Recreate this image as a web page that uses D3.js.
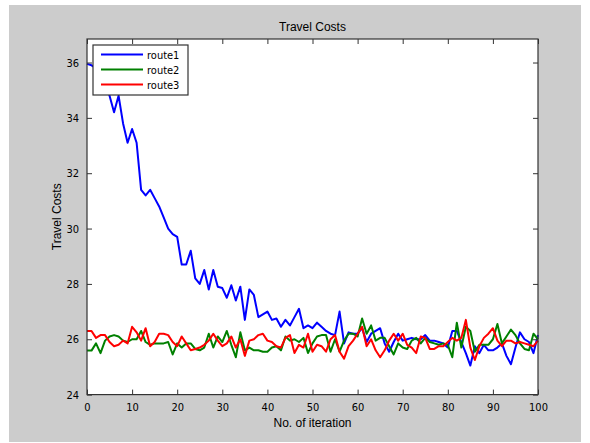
<!DOCTYPE html>
<html>
<head>
<meta charset="utf-8">
<script src="https://cdn.jsdelivr.net/npm/d3@7"></script>
<style>
    body { margin: 0; background: #ffffff; }
    .axis-text { font-family: "Liberation Sans Narrow", "DejaVu Sans Condensed", sans-serif; font-size: 11px; fill: #000; }
    .label-text { font-family: "Liberation Sans", Arial, sans-serif; font-size: 12px; fill: #000; }
</style>
</head>
<body>
<svg id="chart" width="590" height="443"></svg>
<script>
// iteration index 0..100
var iterations = d3.range(0, 101);

// route1: cost falls from ~36 and settles near 26
var route1 = [
    35.95, 35.9, 35.8, 35.5, 35.2, 34.8, 34.2, 34.8, 33.8, 33.1,
    33.6, 33.1, 31.4, 31.2, 31.4, 31.1, 30.8, 30.4, 30.0, 29.8,
    29.7, 28.7, 28.7, 29.2, 28.2, 28.0, 28.5, 27.8, 28.5, 27.9,
    27.85, 27.5, 27.95, 27.4, 27.9, 26.7, 27.8, 27.6, 26.8, 26.9,
    27.0, 26.7, 26.75, 26.45, 26.7, 26.5, 26.8, 27.1, 26.4, 26.5,
    26.4, 26.6, 26.45, 26.3, 26.2, 26.15, 27.0, 25.85, 26.25, 26.2,
    26.2, 26.4, 25.9, 26.2, 26.3, 26.4, 25.85, 25.55, 25.9, 26.2,
    25.95, 26.0, 26.05, 26.0, 26.0, 26.15, 25.95, 25.95, 25.9, 25.85,
    25.7, 26.3, 26.3, 25.9, 25.5, 25.05, 25.75, 25.5, 25.8, 25.6,
    25.6, 25.7, 25.85, 25.4, 25.1, 25.7, 26.25, 26.0, 25.9, 25.5,
    26.15
];

var route2 = [
    25.59, 25.59, 25.85, 25.5, 25.95, 26.1, 26.15, 26.1, 25.95, 25.9,
    26.0, 26.0, 26.3, 25.9, 25.8, 25.85, 25.85, 25.85, 25.9, 25.45,
    25.85, 25.7, 25.85, 25.85, 25.65, 25.6, 25.7, 26.2, 25.7, 26.1,
    25.9, 26.3, 25.8, 25.35, 26.25, 25.6, 25.7, 25.6, 25.6, 25.55,
    25.55, 25.7, 25.75, 25.6, 26.1, 25.95, 26.0, 25.9, 26.05, 25.5,
    25.85, 26.1, 26.15, 26.15, 25.55, 26.0, 25.55, 25.95, 26.2, 26.2,
    26.1, 26.75, 26.2, 26.5, 25.95, 26.05, 26.05, 25.75, 25.45, 25.85,
    25.7, 25.65, 25.95, 26.05, 25.85, 26.05, 25.9, 25.85, 25.8, 25.85,
    25.8, 25.35, 26.6, 25.7, 26.45, 26.3, 25.55, 25.8, 25.8, 25.8,
    26.0, 26.55, 25.85, 26.1, 26.35, 26.15, 25.85, 25.65, 25.6, 26.2,
    26.0
];

var route3 = [
    26.3, 26.3, 26.05, 26.15, 26.15, 25.9, 25.75, 25.8, 25.95, 25.85,
    26.45, 26.25, 25.95, 26.4, 25.75, 25.9, 26.2, 26.2, 26.15, 25.9,
    25.75, 26.1, 25.85, 25.6, 25.65, 25.7, 25.8, 25.95, 26.2, 25.95,
    25.75, 25.85, 26.1, 25.7, 26.0, 25.4, 25.95, 26.0, 26.15, 26.2,
    25.95, 25.9, 25.75, 25.7, 26.05, 26.15, 25.5, 25.8, 25.7, 26.2,
    25.55, 25.8, 25.75, 25.55, 26.0, 26.15, 25.55, 25.3, 25.75, 25.95,
    26.2, 26.45, 25.75, 26.0, 25.6, 25.35, 25.6, 25.95, 26.2, 25.95,
    26.2, 25.8, 25.7, 25.5, 26.1, 26.05, 25.65, 25.65, 25.75, 25.75,
    25.9, 26.05, 25.95, 26.05, 26.7, 25.7, 25.25, 25.75, 26.05, 26.2,
    26.4, 25.95, 25.75, 25.95, 25.95, 25.85, 25.9, 25.85, 25.8, 25.75,
    25.95
];

var seriesNames = ['route1', 'route2', 'route3'];
var seriesColors = ['#0000ff', '#008000', '#ff0000'];
var xTicks = [0, 10, 20, 30, 40, 50, 60, 70, 80, 90, 100];
var yTicks = [24, 26, 28, 30, 32, 34, 36];

// plot box, in px
var box = { left: 87, top: 39, right: 538, bottom: 394.6 };

var svg = d3.select('#chart');

// figure background
svg.append('rect')
    .attr('x', 9)
    .attr('y', 5)
    .attr('width', 572)
    .attr('height', 437)
    .attr('fill', '#cccccc');

var x = d3.scaleLinear().domain([0, 100]).range([box.left, box.right]);
var y = d3.scaleLinear().domain([24, 36.85]).range([box.bottom, box.top]);

// axes background
svg.append('rect')
    .attr('x', box.left)
    .attr('y', box.top)
    .attr('width', box.right - box.left)
    .attr('height', box.bottom - box.top)
    .attr('fill', '#ffffff');

// series lines
var line = d3.line()
    .x(function(d, i) { return x(iterations[i]); })
    .y(function(d) { return y(d); });

[route1, route2, route3].forEach(function(values, k) {
    svg.append('path')
        .datum(values)
        .attr('fill', 'none')
        .attr('stroke', seriesColors[k])
        .attr('stroke-width', 2)
        .attr('stroke-linejoin', 'round')
        .attr('d', line);
});

// ticks go inward on all four sides, labels only bottom & left
var tickLen = 5;

var bottomAxis = svg.append('g')
    .attr('transform', 'translate(0,' + box.bottom + ')')
    .call(d3.axisBottom(x).tickValues(xTicks).tickSize(-tickLen).tickPadding(9));
var topAxis = svg.append('g')
    .attr('transform', 'translate(0,' + box.top + ')')
    .call(d3.axisTop(x).tickValues(xTicks).tickSize(-tickLen).tickFormat(''));
var leftAxis = svg.append('g')
    .attr('transform', 'translate(' + box.left + ',0)')
    .call(d3.axisLeft(y).tickValues(yTicks).tickSize(-tickLen).tickPadding(8));
var rightAxis = svg.append('g')
    .attr('transform', 'translate(' + box.right + ',0)')
    .call(d3.axisRight(y).tickValues(yTicks).tickSize(-tickLen).tickFormat(''));

[bottomAxis, topAxis, leftAxis, rightAxis].forEach(function(g) {
    g.select('.domain').remove();
    g.selectAll('.tick line').attr('stroke', '#333333');
    g.selectAll('text')
        .attr('class', 'axis-text')
        .attr('font-family', null)
        .attr('font-size', null);
});

// box outline
svg.append('rect')
    .attr('x', box.left)
    .attr('y', box.top)
    .attr('width', box.right - box.left)
    .attr('height', box.bottom - box.top)
    .attr('fill', 'none')
    .attr('stroke', '#333333')
    .attr('stroke-width', 1.2);

// title and axis labels
svg.append('text')
    .attr('class', 'label-text')
    .attr('x', (box.left + box.right) / 2)
    .attr('y', 31)
    .attr('text-anchor', 'middle')
    .text('Travel Costs');

svg.append('text')
    .attr('class', 'label-text')
    .attr('x', (box.left + box.right) / 2)
    .attr('y', 427)
    .attr('text-anchor', 'middle')
    .text('No. of iteration');

svg.append('text')
    .attr('class', 'label-text')
    .attr('transform', 'translate(61,' + ((box.top + box.bottom) / 2) + ') rotate(-90)')
    .attr('text-anchor', 'middle')
    .text('Travel Costs');

// legend
var legend = svg.append('g').attr('transform', 'translate(93,45)');

legend.append('rect')
    .attr('width', 95)
    .attr('height', 50)
    .attr('fill', '#ffffff')
    .attr('stroke', '#333333')
    .attr('stroke-width', 1.2);

seriesNames.forEach(function(name, k) {
    var ly = 9.5 + k * 15;
    legend.append('line')
        .attr('x1', 8)
        .attr('x2', 50)
        .attr('y1', ly)
        .attr('y2', ly)
        .attr('stroke', seriesColors[k])
        .attr('stroke-width', 2);
    legend.append('text')
        .attr('class', 'axis-text')
        .attr('x', 54)
        .attr('y', ly + 4)
        .text(name);
});
</script>
</body>
</html>
